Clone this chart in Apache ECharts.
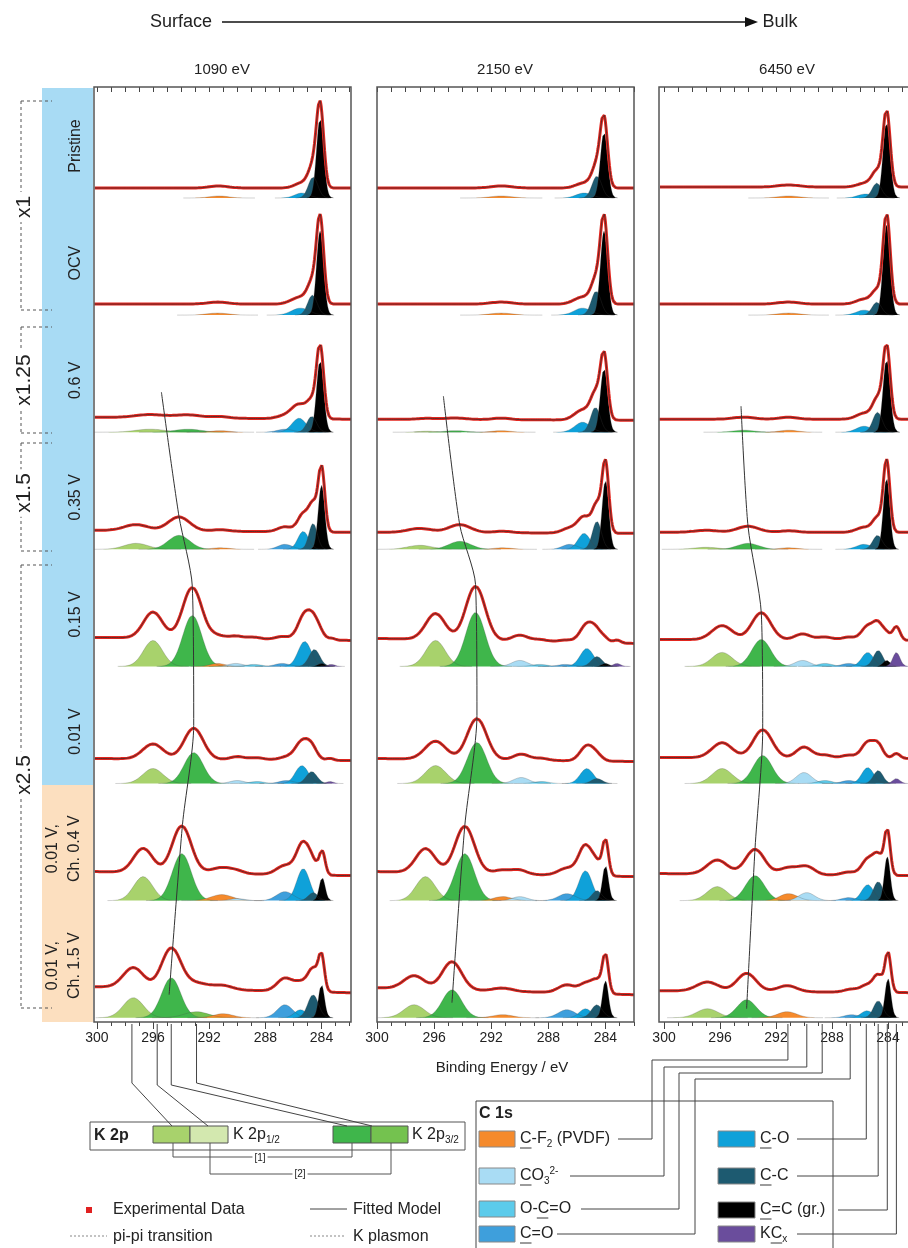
<!DOCTYPE html>
<html>
<head>
<meta charset="utf-8">
<script src="https://cdn.jsdelivr.net/npm/echarts@6.0.0/dist/echarts.min.js"></script>
<style>
html, body { margin: 0; padding: 0; background: #fff; }
#main { width: 908px; height: 1248px; }
</style>
</head>
<body>
<div id="main"></div>
<script>
// photon energies (columns) and electrode states (rows)
var photonEnergies = ['1090 eV', '2150 eV', '6450 eV'];
var stateLabels = ['Pristine', 'OCV', '0.6 V', '0.35 V', '0.15 V', '0.01 V', '0.01 V,\nCh. 0.4 V', '0.01 V,\nCh. 1.5 V'];
var scaleLabels = ['x1', 'x1.25', 'x1.5', 'x2.5'];
var energyTicks = [284, 288, 292, 296, 300];
var minorTicks = [282, 283, 285, 286, 287, 289, 290, 291, 293, 294, 295, 297, 298, 299];
var topTicks = [282, 283, 284, 285, 286, 287, 288, 289, 290, 291, 292, 293, 294, 295, 296, 297, 298, 299, 300];

// linear background [at 300 eV, at 282 eV] per row, arbitrary intensity units
var bg1090 = [[10, 10], [11, 11], [15, 13], [19, 17], [29, 26], [25, 23], [29, 25], [31, 25]];
var bg2150 = [[10, 10], [11, 11], [13, 12], [17, 16], [28, 23], [25, 22], [29, 24], [30, 23]];
var bg6450 = [[11, 11], [11, 11], [13, 13], [17, 17], [27, 26], [26, 25], [27, 25], [27, 25]];

// fit components per row: [component, centre / eV, height, FWHM / eV]
var peaks1090 = [
  [['CF', 291.3, 2, 1.6], ['CO', 285.4, 5, 1.2], ['CC', 284.6, 21, 0.8], ['Cgr', 284.1, 80, 0.6]],
  [['CF', 291.4, 2, 1.8], ['CO', 285.5, 7, 1.5], ['CC', 284.65, 20, 0.8], ['Cgr', 284.1, 84, 0.6]],
  [['K1', 296.2, 3, 2.5], ['K3', 293.5, 3, 2.2], ['CF', 291.2, 1.5, 1.5], ['COd', 286.6, 3, 1.3], ['CO', 285.6, 14, 1.2], ['CC', 284.7, 16, 0.8], ['Cgr', 284.1, 72, 0.6]],
  [['K1', 297.2, 6, 2.0], ['K3', 294.15, 14, 1.8], ['CF', 291.2, 1.5, 1.5], ['COd', 286.6, 5, 1.2], ['CO', 285.3, 18, 0.9], ['CC', 284.6, 26, 0.7], ['Cgr', 284.0, 64, 0.55]],
  [['K1', 296.0, 26, 1.6], ['K3', 293.2, 51, 1.6], ['CF', 291.4, 3, 1.2], ['CO3', 290.1, 3, 1.2], ['OCO', 288.8, 2, 1.2], ['COd', 286.8, 3, 1.2], ['CO', 285.2, 25, 1.1], ['CC', 284.5, 17, 0.9], ['Cgr', 284.0, 3, 0.6], ['KC', 283.3, 2, 0.6]],
  [['K1', 296.0, 15, 1.7], ['K3', 293.1, 31, 1.6], ['CO3', 290.0, 3, 1.2], ['OCO', 288.6, 2, 1.2], ['COd', 286.5, 3, 1.2], ['CO', 285.4, 18, 1.1], ['CC', 284.7, 12, 0.9], ['KC', 283.4, 2, 0.6]],
  [['K1', 296.7, 24, 1.6], ['K3', 293.95, 47, 1.6], ['CF', 291.1, 6, 1.8], ['CO3', 290.0, 2, 1.2], ['COd', 286.6, 9, 1.4], ['CO', 285.3, 32, 1.1], ['CC', 284.6, 8, 0.8], ['Cgr', 283.95, 23, 0.5]],
  [['K1', 297.4, 20, 1.7], ['K3b', 292.9, 6, 2.0], ['K3', 294.7, 40, 1.6], ['CF', 291.0, 4, 1.6], ['COd', 286.6, 13, 1.3], ['CO', 285.5, 8, 1.0], ['CC', 284.6, 23, 0.9], ['Cgr', 284.0, 33, 0.5]]
];
var peaks2150 = [
  [['CF', 291.3, 2, 1.8], ['CO', 285.5, 5, 1.3], ['CC', 284.6, 22, 0.8], ['Cgr', 284.1, 66, 0.6]],
  [['CF', 291.3, 2, 1.8], ['CO', 285.6, 7, 1.4], ['CC', 284.65, 24, 0.8], ['Cgr', 284.1, 84, 0.6]],
  [['K1', 296.5, 1, 1.5], ['K3', 294.5, 1.5, 1.8], ['CF', 291.3, 1.5, 1.5], ['CO', 285.6, 10, 1.3], ['CC', 284.7, 25, 0.8], ['Cgr', 284.1, 64, 0.6]],
  [['K1', 297.0, 4, 2.0], ['K3', 294.2, 8, 1.8], ['CF', 291.2, 1.5, 1.5], ['COd', 286.5, 5, 1.2], ['CO', 285.5, 16, 1.0], ['CC', 284.6, 28, 0.75], ['Cgr', 284.0, 69, 0.55]],
  [['K1', 295.9, 26, 1.6], ['K3', 293.1, 54, 1.6], ['CO3', 290.0, 6, 1.3], ['OCO', 288.6, 2, 1.2], ['COd', 286.8, 2, 1.2], ['CO', 285.3, 18, 1.1], ['CC', 284.6, 10, 0.9], ['Cgr', 284.0, 3, 0.6], ['KC', 283.2, 3, 0.6]],
  [['K1', 295.9, 18, 1.7], ['K3', 293.0, 41, 1.6], ['CO3', 289.9, 6, 1.3], ['OCO', 288.5, 2, 1.2], ['CO', 285.3, 15, 1.1], ['CC', 284.6, 5, 0.9]],
  [['K1', 296.6, 24, 1.6], ['K3', 293.85, 47, 1.6], ['CF', 291.2, 4, 1.5], ['CO3', 290.0, 4, 1.2], ['COd', 286.7, 7, 1.4], ['CO', 285.4, 30, 1.1], ['CC', 284.6, 10, 0.8], ['Cgr', 284.0, 35, 0.5]],
  [['K1', 297.4, 13, 1.7], ['K3', 294.75, 28, 1.6], ['CF', 291.2, 3, 1.6], ['COd', 286.7, 8, 1.4], ['CO', 285.4, 9, 1.0], ['CC', 284.6, 13, 0.9], ['Cgr', 284.0, 37, 0.5]]
];
var peaks6450 = [
  [['CF', 291.1, 2, 1.8], ['CO', 285.6, 4, 1.3], ['CC', 284.8, 15, 0.8], ['Cgr', 284.1, 76, 0.6]],
  [['CF', 291.1, 2, 1.8], ['CO', 285.7, 5, 1.3], ['CC', 284.8, 13, 0.8], ['Cgr', 284.1, 90, 0.6]],
  [['K3', 294.3, 2, 1.8], ['CF', 291.1, 2, 1.5], ['CO', 285.7, 6, 1.3], ['CC', 284.75, 20, 0.8], ['Cgr', 284.1, 73, 0.6]],
  [['K1', 297.0, 2, 2.0], ['K3', 294.0, 6, 1.8], ['CF', 291.1, 1.5, 1.5], ['CO', 285.7, 5, 1.3], ['CC', 284.75, 14, 0.8], ['Cgr', 284.1, 71, 0.55]],
  [['K1', 295.85, 14, 1.7], ['K3', 293.05, 27, 1.6], ['CO3', 290.1, 6, 1.3], ['OCO', 288.5, 3, 1.2], ['COd', 286.8, 3, 1.2], ['CO', 285.45, 14, 1.0], ['CC', 284.7, 16, 0.8], ['Cgr', 284.1, 6, 0.6], ['KC', 283.4, 14, 0.6]],
  [['K1', 295.85, 15, 1.7], ['K3', 292.95, 28, 1.6], ['CO3', 290.0, 11, 1.3], ['OCO', 288.5, 3, 1.2], ['COd', 286.8, 3, 1.2], ['CO', 285.45, 16, 1.0], ['CC', 284.7, 13, 0.8], ['KC', 283.4, 5, 0.6]],
  [['K1', 296.2, 14, 1.7], ['K3', 293.5, 25, 1.6], ['CF', 291.1, 7, 1.5], ['CO3', 289.8, 8, 1.3], ['COd', 286.8, 3, 1.2], ['CO', 285.45, 16, 1.0], ['CC', 284.7, 19, 0.8], ['Cgr', 284.05, 44, 0.5]],
  [['K1', 296.9, 9, 1.8], ['K3', 294.1, 18, 1.6], ['CF', 291.2, 6, 1.6], ['COd', 286.6, 3, 1.2], ['CO', 285.5, 7, 1.0], ['CC', 284.7, 17, 0.8], ['Cgr', 284.0, 39, 0.5]]
];

// K 2p3/2 shift guide: [row, energy / eV, height above row baseline]
var trend1090 = [[2, 295.4, 40], [3, 294.15, 33], [4, 293.2, 80], [5, 293.1, 58], [6, 293.9, 76], [7, 294.85, 23]];
var trend2150 = [[2, 295.35, 36], [3, 294.2, 24], [4, 293.1, 82], [5, 293.0, 68], [6, 293.85, 75], [7, 294.75, 15]];
var trend6450 = [[2, 294.5, 26], [3, 294.0, 23], [4, 293.05, 53], [5, 292.95, 54], [6, 293.5, 52], [7, 294.1, 9]];

// energies the legend connectors point at
var k2pMarks = [297.5, 295.7, 294.7, 292.9];
var c1sMarks = [291.15, 289.8, 288.7, 286.7, 285.55, 284.7, 284.05, 283.4];

// ---- layout / style ----
var FONT = 'Liberation Sans, Arial, sans-serif';
var colLeft = [94, 377, 659];
var colWidth = [257, 257, 249];   // third panel runs off the right edge
var colExtent = [[281.9, 300.2], [282.0, 300.0], [282.57, 300.36]];
var PANEL_TOP = 87, PANEL_H = 935;
var ROW_BASE0 = 824, ROW_STEP = 117.1;
var compOrder = ['K1', 'K3b', 'K3', 'CF', 'CO3', 'OCO', 'COd', 'CO', 'CC', 'Cgr', 'KC'];
var compColor = {
  K1: '#a8d26c', K3b: '#74c24f', K3: '#3fb64b', CF: '#f58a2c', CO3: '#a9dcf4',
  OCO: '#5ccbeb', COd: '#3e9fdc', CO: '#0fa1d9', CC: '#1d5a70', Cgr: '#000000', KC: '#6a4d9c'
};
var bgTables = [bg1090, bg2150, bg6450];
var peakTables = [peaks1090, peaks2150, peaks6450];
var trendTables = [trend1090, trend2150, trend6450];

function gauss(x, p) {
  var d = (x - p[1]) / p[3];
  return p[2] * Math.exp(-4 * Math.LN2 * d * d);
}
function rowBase(r) { return ROW_BASE0 - ROW_STEP * r; }

var grids = [], xAxes = [], yAxes = [], series = [];
for (var c = 0; c < 3; c++) {
  var ext = colExtent[c];
  grids.push({ left: colLeft[c], top: PANEL_TOP, width: colWidth[c], height: PANEL_H, show: false });
  yAxes.push({ gridIndex: c, type: 'value', min: 0, max: PANEL_H, show: false });
  // major ticks + labels
  xAxes.push({
    gridIndex: c, type: 'value', position: 'bottom', inverse: true, min: ext[0], max: ext[1],
    axisLine: { show: false },
    axisTick: { show: true, customValues: energyTicks, length: 7, lineStyle: { color: '#444', width: 1 } },
    axisLabel: { show: true, customValues: energyTicks, fontSize: 14, fontFamily: FONT, color: '#222', margin: 9 },
    splitLine: { show: false }
  });
  // minor ticks
  xAxes.push({
    gridIndex: c, type: 'value', position: 'bottom', inverse: true, min: ext[0], max: ext[1],
    axisLine: { show: false },
    axisTick: { show: true, customValues: minorTicks, length: 4, lineStyle: { color: '#444', width: 1 } },
    axisLabel: { show: false }, splitLine: { show: false }
  });
  // inner ticks along the top edge
  xAxes.push({
    gridIndex: c, type: 'value', position: 'top', inverse: true, min: ext[0], max: ext[1],
    axisLine: { show: false },
    axisTick: { show: true, inside: true, customValues: topTicks, length: 5, lineStyle: { color: '#444', width: 1 } },
    axisLabel: { show: false }, splitLine: { show: false }
  });

  for (var r = 0; r < 8; r++) {
    var base = rowBase(r);
    var bg = bgTables[c][r];
    var peaks = peakTables[c][r].slice().sort(function (a, b) {
      return compOrder.indexOf(a[0]) - compOrder.indexOf(b[0]);
    });
    peaks.forEach(function (p) {
      var d = [];
      var lo = Math.max(ext[0], p[1] - 1.6 * p[3]), hi = Math.min(ext[1], p[1] + 1.6 * p[3]);
      for (var x = lo; x <= hi + 1e-9; x += 0.03) d.push([x, base + gauss(x, p)]);
      series.push({
        type: 'line', xAxisIndex: c * 3, yAxisIndex: c, data: d, showSymbol: false, silent: true,
        animation: false, smooth: false,
        lineStyle: { color: 'rgba(70,70,70,0.35)', width: 0.7 },
        areaStyle: { color: compColor[p[0]], opacity: 1, origin: base }
      });
    });
    var spec = [];
    for (var x = ext[0]; x <= ext[1] + 1e-9; x += 0.04) {
      var y = bg[0] + (bg[1] - bg[0]) * (300 - x) / 18;
      peaks.forEach(function (p) { y += gauss(x, p); });
      spec.push([x, base + y]);
    }
    series.push({
      type: 'line', xAxisIndex: c * 3, yAxisIndex: c, data: spec, showSymbol: false, silent: true,
      animation: false, lineStyle: { color: '#e3261f', width: 3 }
    });
    series.push({
      type: 'line', xAxisIndex: c * 3, yAxisIndex: c, data: spec, showSymbol: false, silent: true,
      animation: false, lineStyle: { color: '#2a2a2a', width: 0.7 }
    });
  }
  series.push({
    type: 'line', xAxisIndex: c * 3, yAxisIndex: c, showSymbol: false, silent: true, animation: false,
    smooth: 0.25, lineStyle: { color: '#333', width: 1 },
    data: trendTables[c].map(function (t) { return [t[1], rowBase(t[0]) + t[2]]; })
  });
}

var chart = echarts.init(document.getElementById('main'));
chart.setOption({
  backgroundColor: '#fff',
  animation: false,
  grid: grids, xAxis: xAxes, yAxis: yAxes, series: series
});

// ---- annotations ----
var g = [];
function text(x, y, s, size, opt) {
  opt = opt || {};
  return {
    type: 'text', x: x, y: y, rotation: opt.rot || 0, z: 10,
    style: {
      text: s, fill: opt.color || '#222', fontSize: size, fontFamily: FONT,
      fontWeight: opt.bold ? 'bold' : 'normal', align: opt.align || 'left', verticalAlign: 'middle',
      lineHeight: opt.lh || size * 1.2, rich: opt.rich,
      backgroundColor: opt.bg, padding: opt.pad
    }
  };
}
function line(x1, y1, x2, y2, opt) {
  opt = opt || {};
  return { type: 'line', z: 9, shape: { x1: x1, y1: y1, x2: x2, y2: y2 },
    style: { stroke: opt.color || '#333', lineWidth: opt.w || 1, lineDash: opt.dash || null } };
}
function poly(pts, opt) {
  opt = opt || {};
  return { type: 'polyline', z: 9, shape: { points: pts }, style: { stroke: opt.color || '#333', lineWidth: opt.w || 1, fill: 'none' } };
}
function rect(x, y, w, h, fill, stroke) {
  return { type: 'rect', z: 8, shape: { x: x, y: y, width: w, height: h }, style: { fill: fill, stroke: stroke || null, lineWidth: 1 } };
}

// panel frames
var pb = PANEL_TOP + PANEL_H;
g.push({ type: 'rect', z: 9, shape: { x: colLeft[0], y: PANEL_TOP, width: colWidth[0], height: PANEL_H }, style: { fill: 'none', stroke: '#555', lineWidth: 1.5 } });
g.push({ type: 'rect', z: 9, shape: { x: colLeft[1], y: PANEL_TOP, width: colWidth[1], height: PANEL_H }, style: { fill: 'none', stroke: '#555', lineWidth: 1.5 } });
g.push(poly([[912, PANEL_TOP], [colLeft[2], PANEL_TOP], [colLeft[2], pb], [912, pb]], { color: '#555', w: 1.5 }));

// top header
g.push(text(181, 22, 'Surface', 18, { align: 'center' }));
g.push(line(222, 22, 748, 22, { color: '#111', w: 1.3 }));
g.push({ type: 'polygon', z: 9, shape: { points: [[758, 22], [745, 17], [745, 27]] }, style: { fill: '#111' } });
g.push(text(780, 22, 'Bulk', 18, { align: 'center' }));
photonEnergies.forEach(function (s, c) {
  g.push(text(colLeft[c] + 128, 70, s, 15, { align: 'center' }));
});

// state bands and labels
g.push(rect(42, 88, 51, 697, '#a8dbf4'));
g.push(rect(42, 785, 51, 237, '#fcdfbf'));
stateLabels.forEach(function (s, r) {
  var yc = 87 + (PANEL_H - rowBase(r)) - 52;
  var two = s.indexOf('\n') >= 0;
  g.push(text(two ? 64 : 76, yc, s, 16, { align: 'center', rot: Math.PI / 2, lh: 22 }));
});

// magnification brackets
var brackets = [[101, 310, 207], [327, 433, 380], [443, 551, 493], [565, 1008, 775]];
brackets.forEach(function (b, i) {
  var dash = [3, 3];
  g.push(line(21, b[0], 21, b[1], { dash: dash, color: '#555' }));
  g.push(line(21, b[0], 52, b[0], { dash: dash, color: '#555' }));
  g.push(line(21, b[1], 52, b[1], { dash: dash, color: '#555' }));
  g.push(text(24, b[2], scaleLabels[i], 21, { align: 'center', rot: Math.PI / 2, bg: '#fff', pad: [0, 4] }));
});

// axis title
g.push(text(502, 1068, 'Binding Energy / eV', 15, { align: 'center' }));

// K 2p legend box
g.push(rect(90, 1122, 375, 28, 'none', '#555'));
g.push(text(94, 1136, 'K 2p', 16, { bold: true }));
g.push(rect(153, 1126, 37, 17, '#a8d26c', '#555'));
g.push(rect(190, 1126, 38, 17, '#d3e8af', '#555'));
g.push(rect(333, 1126, 38, 17, '#3fb64b', '#555'));
g.push(rect(371, 1126, 37, 17, '#74c24f', '#555'));
var subRich = { a: { fontSize: 16, fontFamily: FONT, fill: '#222' }, s: { fontSize: 10, fontFamily: FONT, fill: '#222', padding: [10, 0, 0, 0] } };
g.push(text(233, 1135, '{a|K 2p}{s|1/2}', 16, { rich: subRich }));
g.push(text(412, 1135, '{a|K 2p}{s|3/2}', 16, { rich: subRich }));
g.push(poly([[173, 1143], [173, 1157], [352, 1157], [352, 1143]], { color: '#555' }));
g.push(poly([[210, 1143], [210, 1174], [391, 1174], [391, 1143]], { color: '#555' }));
g.push(text(260, 1158, '[1]', 10, { align: 'center', bg: '#fff', pad: [0, 2] }));
g.push(text(300, 1174, '[2]', 10, { align: 'center', bg: '#fff', pad: [0, 2] }));

// data / model legend
g.push(rect(86, 1207, 6, 6, '#e02020'));
g.push(text(113, 1210, 'Experimental Data', 16));
g.push(line(310, 1209, 347, 1209, { color: '#444' }));
g.push(text(353, 1210, 'Fitted Model', 16));
g.push(line(70, 1236, 107, 1236, { color: '#888', dash: [2, 2] }));
g.push(text(113, 1237, 'pi-pi transition', 16));
g.push(line(310, 1236, 345, 1236, { color: '#888', dash: [2, 2] }));
g.push(text(353, 1237, 'K plasmon', 16));

// C 1s legend box
g.push(poly([[476, 1248], [476, 1101], [833, 1101], [833, 1248]], { color: '#444' }));
g.push(text(479, 1114, 'C 1s', 16, { bold: true }));
var leftItems = [
  ['CF', 1139, '{a|C-F}{s|2}{a| (PVDF)}', 0],
  ['CO3', 1176, '{a|CO}{s|3}{p|2-}', 0],
  ['OCO', 1209, '{a|O-C=O}', 16.8],
  ['COd', 1234, '{a|C=O}', 0]
];
var rightItems = [
  ['CO', 1139, '{a|C-O}', 0],
  ['CC', 1176, '{a|C-C}', 0],
  ['Cgr', 1210, '{a|C=C (gr.)}', 0],
  ['KC', 1234, '{a|KC}{s|x}', 10.7]
];
var legRich = {
  a: { fontSize: 16, fontFamily: FONT, fill: '#222' },
  s: { fontSize: 10, fontFamily: FONT, fill: '#222', padding: [10, 0, 0, 0] },
  p: { fontSize: 10, fontFamily: FONT, fill: '#222', padding: [0, 0, 10, 0] }
};
leftItems.forEach(function (it) {
  g.push(rect(479, it[1] - 8, 36, 16, compColor[it[0]], '#888'));
  g.push(text(520, it[1], it[2], 16, { rich: legRich }));
  g.push(line(520 + it[3], it[1] + 9, 531.5 + it[3], it[1] + 9, { color: '#222', w: 0.9 }));
});
rightItems.forEach(function (it) {
  g.push(rect(718, it[1] - 8, 37, 16, compColor[it[0]], '#888'));
  g.push(text(760, it[1], it[2], 16, { rich: legRich }));
  g.push(line(760 + it[3], it[1] + 9, 771.5 + it[3], it[1] + 9, { color: '#222', w: 0.9 }));
});

// connectors from the energy axes to the legends
var axisY = pb + 2;
var kEnds = [[172, 1126], [208, 1126], [347, 1126], [372, 1126]];
k2pMarks.forEach(function (e, i) {
  var px = chart.convertToPixel({ xAxisIndex: 0 }, e);
  var knee = i === 0 || i === 3 ? 1083 : 1085;
  g.push(poly([[px, axisY], [px, knee], kEnds[i]], { color: '#444' }));
});
var cLeft = [[618, 652, 1060], [570, 664, 1067], [581, 679, 1073], [557, 695, 1079]];
var cRight = [797, 797, 838, 797];
c1sMarks.forEach(function (e, i) {
  var px = chart.convertToPixel({ xAxisIndex: 6 }, e);
  if (i < 4) {
    var yl = leftItems[i][1], k = cLeft[i];
    g.push(poly([[k[0], yl], [k[1], yl], [k[1], k[2]], [px, k[2]], [px, axisY]], { color: '#444' }));
  } else {
    var yr = rightItems[i - 4][1];
    g.push(poly([[cRight[i - 4], yr], [px, yr], [px, axisY]], { color: '#444' }));
  }
});

chart.setOption({ graphic: { elements: g } });
</script>
</body>
</html>
